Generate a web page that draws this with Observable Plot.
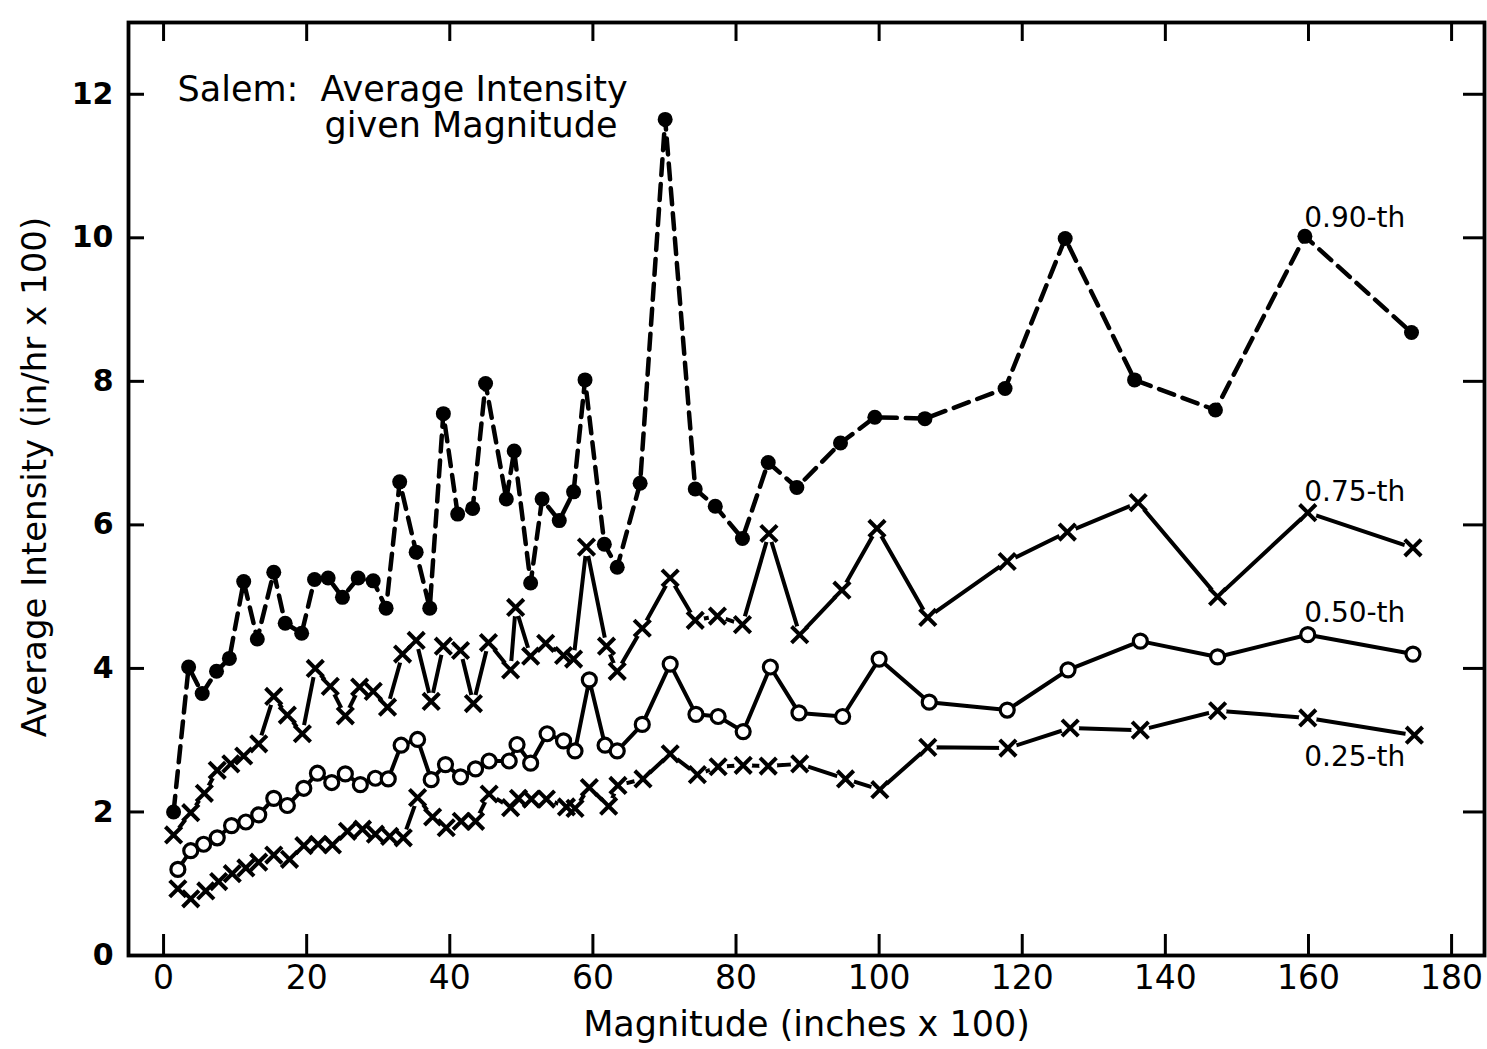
<!DOCTYPE html>
<html>
<head>
<meta charset="utf-8">
<script src="https://cdn.jsdelivr.net/npm/d3@7"></script>
<script src="https://cdn.jsdelivr.net/npm/@observablehq/plot@0.6"></script>
<style>
  html, body { margin: 0; padding: 0; background: #fff; }
  #chart { width: 1487px; height: 1049px; }
</style>
</head>
<body>
<div id="chart"></div>
<script>
// ---------- data ----------
const mag90 = [1.4, 3.5, 5.4, 7.4, 9.2, 11.2, 13.1, 15.4, 17.0, 19.3, 21.1, 23.0, 25.0, 27.2, 29.3, 31.1, 33.0, 35.3, 37.2, 39.1, 41.1, 43.2, 45.0, 47.9, 49.0, 51.3, 52.9, 55.3, 57.3, 58.9, 61.6, 63.4, 66.6, 70.1, 74.3, 77.1, 80.9, 84.5, 88.5, 94.6, 99.4, 106.4, 117.6, 126.0, 135.7, 147.0, 159.5, 174.4];
const q90 = [2.0, 4.02, 3.65, 3.96, 4.14, 5.21, 4.41, 5.34, 4.63, 4.49, 5.24, 5.26, 4.99, 5.26, 5.22, 4.84, 6.6, 5.62, 4.84, 7.55, 6.15, 6.23, 7.97, 6.36, 7.03, 5.19, 6.36, 6.06, 6.46, 8.02, 5.73, 5.41, 6.58, 11.65, 6.5, 6.26, 5.81, 6.87, 6.52, 7.14, 7.5, 7.48, 7.9, 9.99, 8.02, 7.6, 10.02, 8.68];

const mag75 = [1.4, 3.8, 5.7, 7.5, 9.4, 11.2, 13.3, 15.4, 17.3, 19.4, 21.2, 23.3, 25.4, 27.4, 29.3, 31.3, 33.4, 35.3, 37.4, 39.1, 41.5, 43.3, 45.4, 48.5, 49.2, 51.3, 53.4, 55.9, 57.3, 59.1, 61.9, 63.4, 66.9, 70.8, 74.3, 77.4, 80.9, 84.6, 88.9, 94.8, 99.7, 106.8, 117.9, 126.3, 136.2, 147.3, 159.9, 174.6];
const q75 = [1.68, 1.99, 2.26, 2.58, 2.67, 2.78, 2.95, 3.61, 3.35, 3.09, 4.0, 3.75, 3.34, 3.74, 3.68, 3.46, 4.2, 4.39, 3.54, 4.31, 4.25, 3.51, 4.36, 3.98, 4.85, 4.17, 4.35, 4.18, 4.13, 5.69, 4.31, 3.96, 4.56, 5.26, 4.67, 4.73, 4.61, 5.88, 4.47, 5.09, 5.95, 4.71, 5.49, 5.9, 6.31, 5.0, 6.17, 5.68];

const mag50 = [2.0, 3.8, 5.6, 7.5, 9.5, 11.5, 13.3, 15.4, 17.3, 19.6, 21.5, 23.5, 25.4, 27.5, 29.6, 31.4, 33.2, 35.5, 37.4, 39.4, 41.5, 43.6, 45.5, 48.3, 49.4, 51.3, 53.6, 55.9, 57.5, 59.5, 61.7, 63.4, 66.9, 70.8, 74.4, 77.5, 81.0, 84.8, 88.8, 94.9, 100.0, 107.0, 117.9, 126.4, 136.5, 147.3, 159.9, 174.6];
const q50 = [1.2, 1.46, 1.55, 1.64, 1.81, 1.86, 1.96, 2.19, 2.09, 2.33, 2.54, 2.41, 2.53, 2.38, 2.47, 2.46, 2.93, 3.01, 2.45, 2.66, 2.49, 2.6, 2.71, 2.71, 2.94, 2.68, 3.09, 2.99, 2.85, 3.84, 2.93, 2.85, 3.22, 4.06, 3.36, 3.33, 3.12, 4.02, 3.38, 3.33, 4.13, 3.53, 3.42, 3.98, 4.38, 4.16, 4.47, 4.2];

const mag25 = [2.0, 3.8, 5.9, 7.7, 9.6, 11.5, 13.3, 15.4, 17.6, 19.6, 21.6, 23.6, 25.7, 27.8, 29.6, 31.6, 33.5, 35.5, 37.6, 39.5, 41.6, 43.6, 45.5, 48.5, 49.6, 51.4, 53.5, 56.3, 57.5, 59.5, 62.2, 63.5, 67.0, 70.8, 74.6, 77.5, 81.0, 84.5, 88.9, 95.3, 100.1, 106.8, 118.0, 126.7, 136.5, 147.3, 159.9, 174.8];
const q25 = [0.93, 0.79, 0.9, 1.03, 1.14, 1.22, 1.3, 1.4, 1.34, 1.53, 1.55, 1.54, 1.73, 1.76, 1.69, 1.66, 1.64, 2.2, 1.93, 1.78, 1.87, 1.87, 2.25, 2.06, 2.19, 2.18, 2.18, 2.07, 2.05, 2.34, 2.08, 2.37, 2.46, 2.81, 2.52, 2.63, 2.65, 2.64, 2.67, 2.46, 2.31, 2.9, 2.89, 3.17, 3.14, 3.41, 3.31, 3.07];

const xTicks = [0, 20, 40, 60, 80, 100, 120, 140, 160, 180];
const yTicks = [0, 2, 4, 6, 8, 10, 12];
const yInnerTicks = [2, 4, 6, 8, 10, 12];

const seriesNames = ["0.90-th", "0.75-th", "0.50-th", "0.25-th"];
const seriesNameMag = [159.4, 159.4, 159.4, 159.4];
const seriesNameVal = [10.28, 6.46, 4.77, 2.76];

const titleLine1 = "Salem:  Average Intensity";
const titleLine2 = "given Magnitude";
const xTitle = "Magnitude (inches x 100)";
const yTitle = "Average Intensity (in/hr x 100)";

// ---------- build tables ----------
const zip = (xs, ys) => xs.map((x, i) => ({x, y: ys[i]}));
const d90 = zip(mag90, q90);
const d75 = zip(mag75, q75);
const d50 = zip(mag50, q50);
const d25 = zip(mag25, q25);
const nameRows = seriesNames.map((t, i) => ({t, x: seriesNameMag[i], y: seriesNameVal[i]}));

const FONT = "'DejaVu Sans', 'Liberation Sans', sans-serif";

const chart = Plot.plot({
  width: 1487,
  height: 1049,
  marginLeft: 128,
  marginRight: 3,
  marginTop: 22,
  marginBottom: 94,
  x: {domain: [-4.9, 184.6]},
  y: {domain: [0, 13]},
  style: {fontFamily: FONT, background: "#fff", color: "#000"},
  marks: [
    // inward tick marks on all four sides
    Plot.axisX({ticks: xTicks, anchor: "bottom", tickSize: -21, strokeWidth: 3, tickFormat: () => "", label: null}),
    Plot.axisX({ticks: xTicks, anchor: "top", tickSize: -18, strokeWidth: 3, tickFormat: () => "", label: null}),
    Plot.axisY({ticks: yInnerTicks, anchor: "left", tickSize: -16, strokeWidth: 3, tickFormat: () => "", label: null}),
    Plot.axisY({ticks: yInnerTicks, anchor: "right", tickSize: -22, strokeWidth: 3, tickFormat: () => "", label: null}),
    // tick labels
    Plot.axisX({ticks: xTicks, anchor: "bottom", tickSize: 0, tickPadding: 10, fontSize: 33, label: null}),
    Plot.axisY({ticks: yTicks, anchor: "left", tickSize: 0, tickPadding: 15, fontSize: 30, fontWeight: "bold", label: null}),
    Plot.frame({stroke: "#000", strokeWidth: 3.8}),
    // axis titles
    Plot.text([xTitle], {frameAnchor: "bottom", text: d => d, dy: 69, lineAnchor: "middle", textAnchor: "middle", fontSize: 35}),
    Plot.text([yTitle], {frameAnchor: "left", text: d => d, dx: -93, dy: -12, rotate: -90, lineAnchor: "middle", textAnchor: "middle", fontSize: 34}),
    // chart title
    Plot.text([titleLine1], {frameAnchor: "top-left", text: d => d, dx: 49, dy: 54, textAnchor: "start", lineAnchor: "top", fontSize: 35}),
    Plot.text([titleLine2], {frameAnchor: "top-left", text: d => d, dx: 196, dy: 90, textAnchor: "start", lineAnchor: "top", fontSize: 35}),
    // lines
    Plot.line(d90, {x: "x", y: "y", stroke: "#000", strokeWidth: 4.5, strokeDasharray: "16,9"}),
    Plot.line(d75, {x: "x", y: "y", stroke: "#000", strokeWidth: 4}),
    Plot.line(d50, {x: "x", y: "y", stroke: "#000", strokeWidth: 4}),
    Plot.line(d25, {x: "x", y: "y", stroke: "#000", strokeWidth: 4}),
    // white halos around x markers (gaps in the lines)
    Plot.dot(d75, {x: "x", y: "y", r: 9, fill: "#fff", stroke: null}),
    Plot.dot(d25, {x: "x", y: "y", r: 9, fill: "#fff", stroke: null}),
    // markers
    Plot.dot(d90, {x: "x", y: "y", r: 7.5, fill: "#000", stroke: null}),
    Plot.dot(d75, {x: "x", y: "y", r: 7.5, symbol: "times", stroke: "#000", strokeWidth: 4}),
    Plot.dot(d50, {x: "x", y: "y", r: 7, fill: "#fff", stroke: "#000", strokeWidth: 3.2}),
    Plot.dot(d25, {x: "x", y: "y", r: 7.5, symbol: "times", stroke: "#000", strokeWidth: 4}),
    // series labels
    Plot.text(nameRows, {x: "x", y: "y", text: "t", textAnchor: "start", fontSize: 28})
  ]
});
document.getElementById("chart").appendChild(chart);
</script>
</body>
</html>
